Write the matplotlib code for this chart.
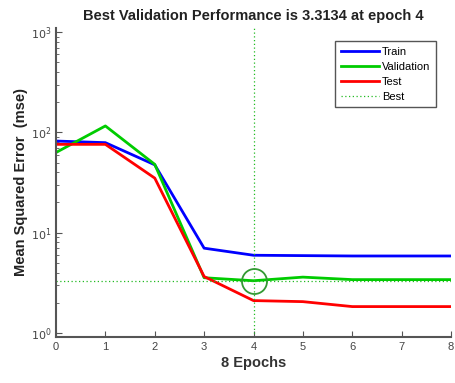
import matplotlib
matplotlib.use("Agg")
import matplotlib.pyplot as plt

epochs = [0, 1, 2, 3, 4, 5, 6, 7, 8]
train = [82, 79, 47.5, 7.0, 5.95, 5.9, 5.85, 5.85, 5.85]
validation = [63, 116, 48, 3.55, 3.3134, 3.6, 3.4, 3.4, 3.4]
test = [76, 76, 35, 3.65, 2.1, 2.05, 1.83, 1.83, 1.83]
best_epoch = 4
best_perf = 3.3134

plt.rcParams['font.family'] = ['Liberation Sans', 'DejaVu Sans']

fig = plt.figure(figsize=(4.55, 3.83), dpi=100)
ax = fig.add_axes([56/455, 1-337/383, (451-56)/455, (337-28)/383])

ax.plot(epochs, train, color='#0000ff', lw=2, label='Train')
ax.plot(epochs, validation, color='#00cc00', lw=2, label='Validation')
ax.plot(epochs, test, color='#ff0000', lw=2, label='Test')
ax.axvline(best_epoch, color='#22bb22', lw=0.9, ls=(0, (1, 2)), label='Best')
ax.axhline(best_perf, color='#22bb22', lw=0.9, ls=(0, (1, 2)))
ax.plot([best_epoch], [best_perf], marker='o', ms=18, mfc='none', mec='#339933', mew=1.3)

ax.set_yscale('log')
ax.set_xlim(0, 8)
ax.set_ylim(0.91, 1100)
ax.set_xticks(range(0, 9))
ax.set_yticks([1, 10, 100, 1000])
ax.set_yticklabels([r'$10^0$', r'$10^1$', r'$10^2$', r'$10^3$'])

for s in ['top', 'right']:
    ax.spines[s].set_visible(False)
for s in ['left', 'bottom']:
    ax.spines[s].set_color('#555555')
    ax.spines[s].set_linewidth(1.5)
ax.tick_params(direction='in', colors='#555555', labelcolor='#444444', labelsize=8, length=4)
ax.tick_params(which='minor', direction='in', colors='#555555', length=2)

ax.set_title('Best Validation Performance is 3.3134 at epoch 4', fontsize=10.5, fontweight='bold', color='#222222', pad=6)
ax.set_xlabel('8 Epochs', fontsize=10.5, fontweight='bold', color='#333333', labelpad=3)
ax.set_ylabel('Mean Squared Error  (mse)', fontsize=10.5, fontweight='bold', color='#222222', labelpad=2)

leg = ax.legend(loc='upper right', bbox_to_anchor=(0.975, 0.975), fontsize=8, fancybox=False,
                handlelength=3.5, handletextpad=0.2, borderpad=0.5, labelspacing=0.45, framealpha=1)
leg.get_frame().set_edgecolor('#555555')
leg.get_frame().set_linewidth(1.0)

fig.savefig('out.png', dpi=100)
